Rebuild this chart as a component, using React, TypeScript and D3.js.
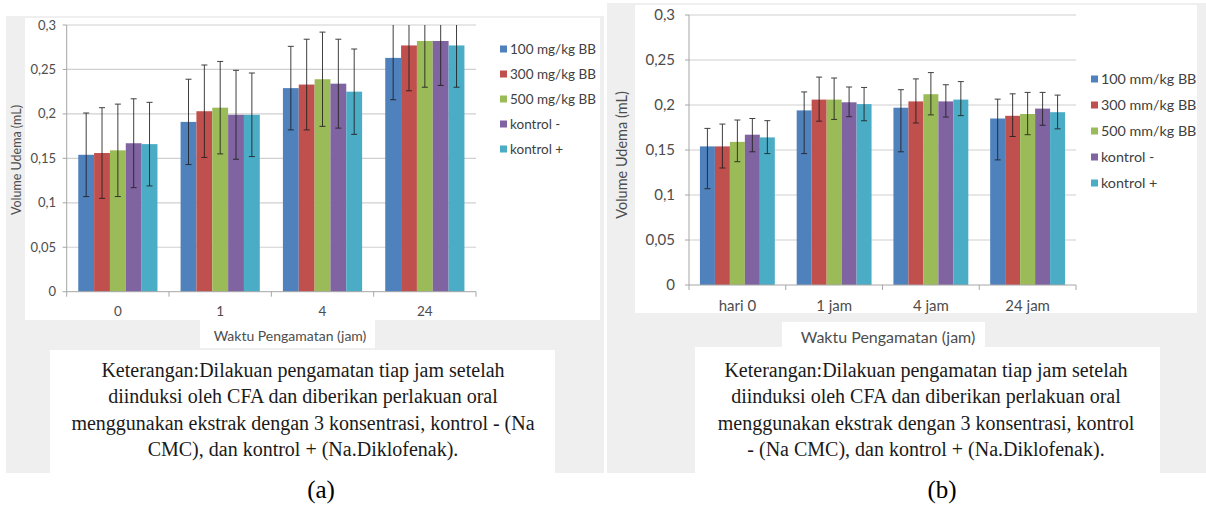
import React, { useEffect } from "react";
import * as d3 from "d3";

const seriesA = ["100 mg/kg BB", "300 mg/kg BB", "500 mg/kg BB", "kontrol -", "kontrol +"];
const seriesB = ["100 mm/kg BB", "300 mm/kg BB", "500 mm/kg BB", "kontrol -", "kontrol +"];
const colors = ["#4F81BD", "#C0504D", "#9BBB59", "#8064A2", "#4BACC6"];
const categoriesA = ["0", "1", "4", "24"];
const categoriesB = ["hari 0", "1 jam", "4 jam", "24 jam"];
const yTicks = [0, 0.05, 0.1, 0.15, 0.2, 0.25, 0.3];

// chart (a) values per series, per category
const valuesA = [
  [0.154, 0.191, 0.229, 0.263],
  [0.156, 0.203, 0.233, 0.277],
  [0.159, 0.207, 0.239, 0.282],
  [0.167, 0.199, 0.234, 0.282],
  [0.166, 0.199, 0.225, 0.277],
];
const errA = [
  [0.047, 0.048, 0.047, 0.047],
  [0.051, 0.052, 0.051, 0.051],
  [0.052, 0.052, 0.053, 0.052],
  [0.05, 0.05, 0.05, 0.05],
  [0.047, 0.047, 0.048, 0.047],
];

// chart (b)
const valuesB = [
  [0.154, 0.194, 0.197, 0.185],
  [0.154, 0.206, 0.204, 0.188],
  [0.159, 0.206, 0.212, 0.19],
  [0.167, 0.203, 0.204, 0.196],
  [0.164, 0.201, 0.206, 0.192],
];
const errUpB = [
  [0.02, 0.0205, 0.02, 0.0215],
  [0.0248, 0.025, 0.025, 0.0244],
  [0.0243, 0.024, 0.024, 0.024],
  [0.018, 0.017, 0.0185, 0.018],
  [0.0186, 0.0185, 0.02, 0.019],
];
const errDownB = [
  [0.047, 0.048, 0.049, 0.046],
  [0.024, 0.024, 0.024, 0.023],
  [0.022, 0.022, 0.023, 0.023],
  [0.019, 0.016, 0.0174, 0.0185],
  [0.018, 0.0185, 0.0178, 0.0185],
];

const captionA = [
  "Keterangan:Dilakuan pengamatan tiap jam setelah",
  "diinduksi oleh CFA dan diberikan perlakuan oral",
  "menggunakan ekstrak dengan 3 konsentrasi, kontrol - (Na",
  "CMC), dan kontrol + (Na.Diklofenak).",
];
const captionB = [
  "Keterangan:Dilakuan pengamatan tiap jam setelah",
  "diinduksi oleh CFA dan diberikan perlakuan oral",
  "menggunakan ekstrak dengan 3 konsentrasi, kontrol",
  "- (Na CMC), dan kontrol + (Na.Diklofenak).",
];

const SANS = "Lato, 'Open Sans', sans-serif";
const SERIF = "'Liberation Serif', 'Times New Roman', serif";

type ChartProps = {
  left: number; right: number; top: number; bottom: number;
  cats: string[]; series: string[]; values: number[][];
  up: number[][]; down: number[][];
  tickFont: number; catFont: number; catY: number; tickLabelX: number;
  legendX: number; legendYs: number[]; legendFont: number;
  yTitleX: number; yTitleY: number; yTitleFont: number;
};

function Chart(p: ChartProps) {
  const y = d3.scaleLinear().domain([0, 0.3]).range([p.bottom, p.top]);
  const x0 = d3.scaleBand<string>().domain(p.cats).range([p.left, p.right]).padding(0);
  const bw = x0.bandwidth();
  const x1 = d3.scaleBand<number>().domain(d3.range(p.series.length)).range([bw * 0.113, bw * 0.887]).padding(0);
  const boundaries = d3.range(p.cats.length + 1).map((i) => p.left + i * bw);
  return (
    <g>
      {yTicks.map((t) => (
        <g key={"g" + t}>
          {t > 0 && <line x1={p.left} x2={p.right} y1={y(t)} y2={y(t)} stroke="#d0d0d0" strokeWidth={1.2} />}
          <line x1={p.left - 4} x2={p.left} y1={y(t)} y2={y(t)} stroke="#a6a6a6" />
          <text x={p.tickLabelX} y={y(t)} dy="0.35em" textAnchor="end" fontFamily={SANS} fontSize={p.tickFont} fill="#4d4d4d">
            {String(t).replace(".", ",")}
          </text>
        </g>
      ))}
      {p.series.map((s, si) =>
        p.cats.map((c, ci) => {
          const bx = (x0(c) as number) + (x1(si) as number);
          const v = p.values[si][ci];
          return (
            <rect key={s + c} x={bx} y={y(v)} width={x1.bandwidth()} height={p.bottom - y(v)} fill={colors[si]} />
          );
        })
      )}
      {p.series.map((s, si) =>
        p.cats.map((c, ci) => {
          const cx = (x0(c) as number) + (x1(si) as number) + x1.bandwidth() / 2;
          const v = p.values[si][ci];
          const hiV = v + p.up[si][ci];
          const clipped = hiV > 0.3;
          const hi = y(Math.min(hiV, 0.3));
          const lo = y(v - p.down[si][ci]);
          return (
            <g key={"e" + s + c} stroke="#1f1f1f" strokeWidth={1} opacity={0.85}>
              <line x1={cx} x2={cx} y1={hi} y2={lo} />
              {!clipped && <line x1={cx - 3} x2={cx + 3} y1={hi} y2={hi} />}
              <line x1={cx - 3} x2={cx + 3} y1={lo} y2={lo} />
            </g>
          );
        })
      )}
      <line x1={p.left} x2={p.left} y1={p.top} y2={p.bottom} stroke="#a6a6a6" />
      <line x1={p.left} x2={p.right} y1={p.bottom} y2={p.bottom} stroke="#a6a6a6" />
      {boundaries.map((bx, i) => (
        <line key={"t" + i} x1={bx} x2={bx} y1={p.bottom} y2={p.bottom + 5} stroke="#a6a6a6" />
      ))}
      {p.cats.map((c) => (
        <text key={"c" + c} x={(x0(c) as number) + bw / 2} y={p.catY} textAnchor="middle" fontFamily={SANS} fontSize={p.catFont} fill="#4d4d4d">
          {c}
        </text>
      ))}
      <text transform={`translate(${p.yTitleX},${p.yTitleY}) rotate(-90)`} textAnchor="middle" fontFamily={SANS} fontSize={p.yTitleFont} fill="#4d4d4d">
        Volume Udema (mL)
      </text>
      {p.series.map((s, si) => (
        <g key={"l" + s}>
          <rect x={p.legendX} y={p.legendYs[si] - 3.5} width={7} height={7} fill={colors[si]} />
          <text x={p.legendX + 10} y={p.legendYs[si]} dy="0.35em" fontFamily={SANS} fontSize={p.legendFont} fill="#404040">
            {s}
          </text>
        </g>
      ))}
    </g>
  );
}

export default function App() {
  useEffect(() => {
    document.body.style.margin = "0";
  }, []);
  return (
    <svg width={1206} height={507} style={{ position: "absolute", left: 0, top: 0, background: "#fff" }}>
      {/* panel (a) */}
      <rect x={6} y={16} width={598} height={457} fill="#efefef" />
      <rect x={25} y={18} width={575} height={302} fill="#fff" />
      <rect x={200} y={320} width={175} height={28} fill="#fff" />
      <rect x={50} y={350} width={505} height={123} fill="#fff" />
      {/* panel (b) */}
      <rect x={607} y={3} width={599} height={470} fill="#efefef" />
      <rect x={635} y={5} width={562} height={308} fill="#fff" />
      <rect x={782} y={322} width={203} height={25} fill="#fff" />
      <rect x={695} y={347} width={465} height={126} fill="#fff" />

      <Chart
        left={66.7} right={476} top={25} bottom={291.7}
        cats={categoriesA} series={seriesA} values={valuesA} up={errA} down={errA}
        tickFont={13} catFont={13.5} catY={316} tickLabelX={56}
        legendX={500} legendYs={[49, 74, 99, 124, 149]} legendFont={13.5}
        yTitleX={21} yTitleY={160} yTitleFont={12.5}
      />
      <Chart
        left={689} right={1076} top={15} bottom={285}
        cats={categoriesB} series={seriesB} values={valuesB} up={errUpB} down={errDownB}
        tickFont={15} catFont={15} catY={311} tickLabelX={675}
        legendX={1091} legendYs={[79, 105, 131, 157, 183]} legendFont={14.3}
        yTitleX={627} yTitleY={155} yTitleFont={14.5}
      />

      <text x={290} y={341} textAnchor="middle" fontFamily={SANS} fontSize={14} fill="#4d4d4d">Waktu Pengamatan (jam)</text>
      <text x={888} y={343} textAnchor="middle" fontFamily={SANS} fontSize={16} fill="#4d4d4d">Waktu Pengamatan (jam)</text>

      {captionA.map((line, i) => (
        <text key={"ca" + i} x={303} y={377 + i * 26.3} textAnchor="middle" fontFamily={SERIF} fontSize={20} fill="#1a1a1a">{line}</text>
      ))}
      {captionB.map((line, i) => (
        <text key={"cb" + i} x={926} y={377 + i * 26.3} textAnchor="middle" fontFamily={SERIF} fontSize={20} fill="#1a1a1a">{line}</text>
      ))}
      <text x={321} y={498} textAnchor="middle" fontFamily={SERIF} fontSize={25} fill="#000">(a)</text>
      <text x={942} y={498} textAnchor="middle" fontFamily={SERIF} fontSize={25} fill="#000">(b)</text>
    </svg>
  );
}
